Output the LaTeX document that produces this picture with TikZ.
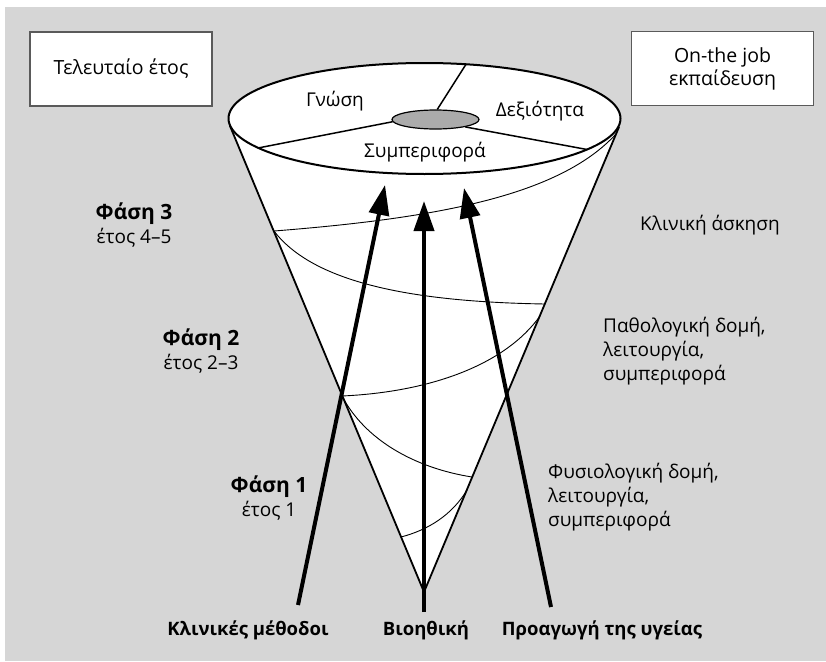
\documentclass[tikz,border=0pt]{standalone}
\usepackage{fontspec}
\setmainfont{Open Sans}
\usepackage{tikz}
\usetikzlibrary{arrows.meta, shapes.geometric}
\definecolor{bggray}{HTML}{D6D6D6}
\definecolor{discgray}{HTML}{ABABAB}
\definecolor{boxgray}{HTML}{5A5A5A}
\newcommand{\phasetitle}[1]{{\fontsize{21}{24}\selectfont\bfseries #1}}

\begin{document}
\begin{tikzpicture}[x=1pt, y=-1pt,
  txt/.style={font=\fontsize{19}{24}\selectfont, inner sep=0pt},
  btxt/.style={font=\fontsize{18.5}{24}\selectfont\bfseries, inner sep=0pt},
  yearbox/.style={draw=boxgray, line width=1.2pt, fill=white, minimum width=182pt, minimum height=74pt, align=center, font=\fontsize{19.5}{23}\selectfont},
  conel/.style={line width=1.8pt},
  spir/.style={line width=0.9pt},
  bigarrow/.style={line width=4pt, -{Triangle[length=30pt, width=20pt]}}]

\useasboundingbox (0,0) rectangle (826,661);
\fill[bggray] (5,7) rectangle (826,661);

%% boxes
\node[yearbox] (last) at (121,69) {Τελευταίο έτος};
\node[yearbox] (job) at (722.5,68.5) {On-the job\\εκπαίδευση};

%% cone
\coordinate (tip) at (424,592);
\coordinate (lt) at (230,126);
\coordinate (rt) at (619,127);
\fill[white] (lt) -- (tip) -- (rt) -- cycle;
\draw[conel] (lt) -- (tip) -- (rt);

%% spiral
\coordinate (r1) at (616,134);
\coordinate (l1) at (274,231);
\coordinate (r2) at (545,304);
\coordinate (r3) at (540,316);
\coordinate (l2) at (342,396);
\coordinate (r4) at (472,477);
\coordinate (r5) at (467,490);
\coordinate (l3) at (401,537);
\draw[spir] (r1) .. controls (560,195) and (440,218) .. (l1);
\draw[spir] (l1) .. controls (315,285) and (420,302) .. (r2);
\draw[spir] (r3) .. controls (505,365) and (430,392) .. (l2);
\draw[spir] (l2) .. controls (365,440) and (415,468) .. (r4);
\draw[spir] (r5) .. controls (452,515) and (428,530) .. (l3);

%% top
\draw[line width=2pt, fill=white] (424.5,118.5) ellipse [x radius=196, y radius=55.5];
\node[ellipse, draw, line width=1.2pt, fill=discgray, minimum width=87pt, minimum height=19pt, inner sep=0pt] (disc) at (435.5,119.5) {};
\coordinate (dl) at (258,148);
\coordinate (dr) at (587,149.5);
\coordinate (dt) at (466,64.3);
\draw[line width=1.5pt] (dl) -- (disc.183);
\draw[line width=1.5pt] (dr) -- (disc.-14);
\draw[line width=1.5pt] (dt) -- (disc.80);

\node[txt] (know) at (335,101) {Γνώση};
\node[txt] (skill) at (540,111) {Δεξιότητα};
\node[txt] (behav) at (425,152) {Συμπεριφορά};

%% phases
\node[txt, align=center] (ph3) at (134,224.5) {\phasetitle{Φάση 3}\\έτος 4–5};
\node[txt, align=center] (ph2) at (201,351) {\phasetitle{Φάση 2}\\έτος 2–3};
\node[txt, align=center] (ph1) at (269,498) {\phasetitle{Φάση 1}\\έτος 1};

\node[txt, anchor=west] (clin) at (640,225) {Κλινική άσκηση};
\node[txt, anchor=west, align=left] (path) at (603,351) {Παθολογική δομή,\\λειτουργία,\\συμπεριφορά};
\node[txt, anchor=west, align=left] (phys) at (548,497) {Φυσιολογική δομή,\\λειτουργία,\\συμπεριφορά};

%% arrows
\node[btxt] (meth) at (248,630) {Κλινικές μέθοδοι};
\node[btxt] (bioe) at (426,630) {Βιοηθική};
\node[btxt] (prom) at (602,630) {Προαγωγή της υγείας};

\coordinate (methb) at (298,605);
\coordinate (metht) at (385,185);
\coordinate (bioeb) at (424,612);
\coordinate (bioet) at (424,201);
\coordinate (promb) at (551,607);
\coordinate (promt) at (464,188);
\draw[bigarrow] (methb) -- (metht);
\draw[bigarrow] (bioeb) -- (bioet);
\draw[bigarrow] (promb) -- (promt);
\end{tikzpicture}
\end{document}
